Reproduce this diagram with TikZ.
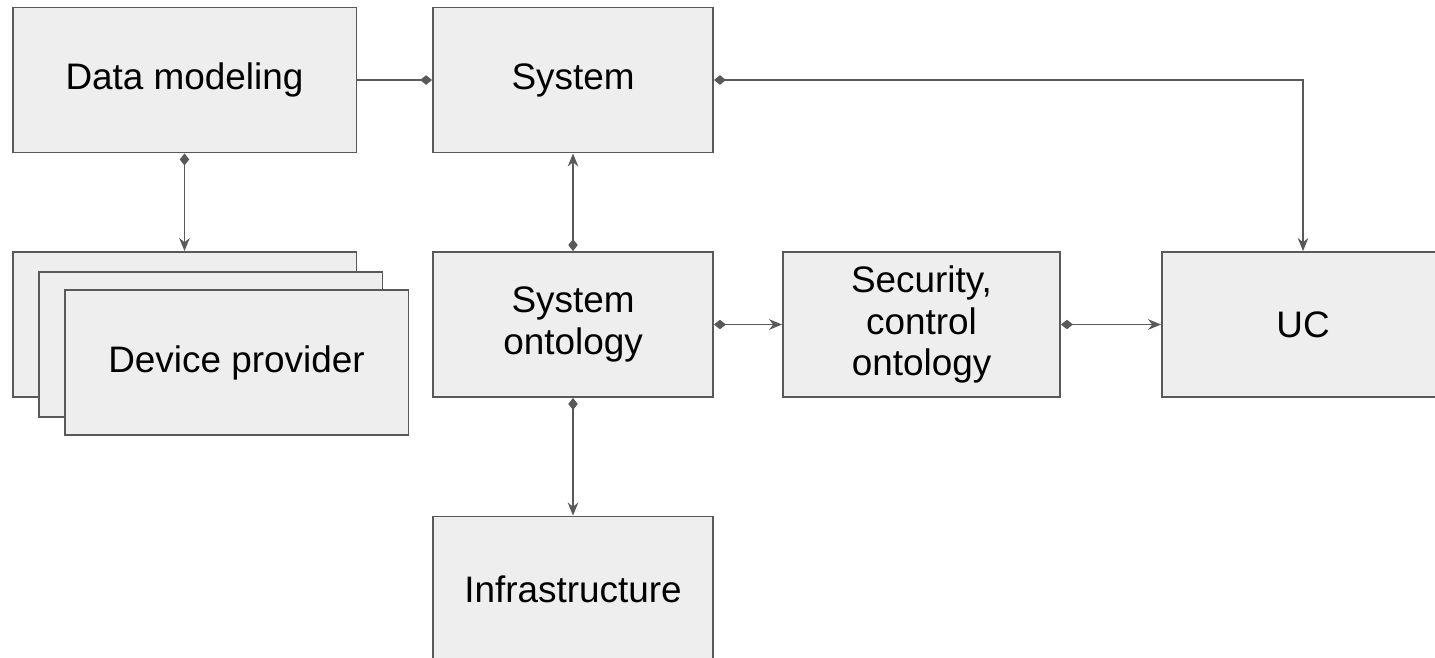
\documentclass[tikz,border=0pt]{standalone}
\usepackage{fontspec}
\setmainfont{Liberation Sans}
\usetikzlibrary{arrows.meta, positioning}
\definecolor{boxfill}{HTML}{EEEEEE}
\definecolor{boxline}{HTML}{595959}
\tikzset{
    block/.style={draw=boxline, fill=boxfill, rectangle, line width=1.1pt, align=center, minimum width=5.6cm, minimum height=2.9cm, inner sep=0pt, font=\fontsize{21}{23.5}\selectfont},
    wideblock/.style={block, minimum width=6.88cm},
    link/.style={draw=boxline, line width=1.1pt, {Diamond[length=0.24cm,width=0.19cm]}-{Stealth[length=0.26cm,width=0.21cm]}},
    dlink/.style={draw=boxline, line width=1.1pt, -{Diamond[length=0.24cm,width=0.19cm]}}
}
\begin{document}
\begin{tikzpicture}[x=0.02cm, y=-0.02cm]
        \clip (0,0) rectangle (1435,657);
        \fill[white] (0,0) rectangle (1435,657);

        % -----------------------------------------------------------------
        % BLOCCHI SUPERIORI
        % -----------------------------------------------------------------
        \node[wideblock] (datamodel) at (184.5, 80) {Data modeling};
        \node[block] (system) at (573, 80) {System};

        % -----------------------------------------------------------------
        % DEVICE PROVIDER (pila)
        % -----------------------------------------------------------------
        \node[wideblock] (device1) at (184.5, 324.5) {};
        \node[wideblock] (device2) at (210.5, 344.5) {};
        \node[wideblock] (device3) at (236.5, 362.5) {Device provider};

        % -----------------------------------------------------------------
        % ONTOLOGIE
        % -----------------------------------------------------------------
        \node[block] (sysonto) at (573, 324.5) {System\\ontology};
        \node[block, minimum width=5.54cm] (security) at (921.5, 324.5) {Security,\\control\\ontology};
        \node[block, minimum width=5.64cm] (uc) at (1303, 324.5) {UC};
        \node[block] (infra) at (573, 589) {Infrastructure};

        % -----------------------------------------------------------------
        % COLLEGAMENTI
        % -----------------------------------------------------------------
        \draw[dlink] (datamodel.east) -- (system.west);
        \draw[link] (system.east) -| (uc.north);
        \draw[link] (datamodel.south) -- (device1.north -| datamodel.south);
        \draw[link] (sysonto.north) -- (system.south);
        \draw[link] (sysonto.east) -- (security.west);
        \draw[link] (security.east) -- (uc.west);
        \draw[link] (sysonto.south) -- (infra.north);

    \end{tikzpicture}
\end{document}
